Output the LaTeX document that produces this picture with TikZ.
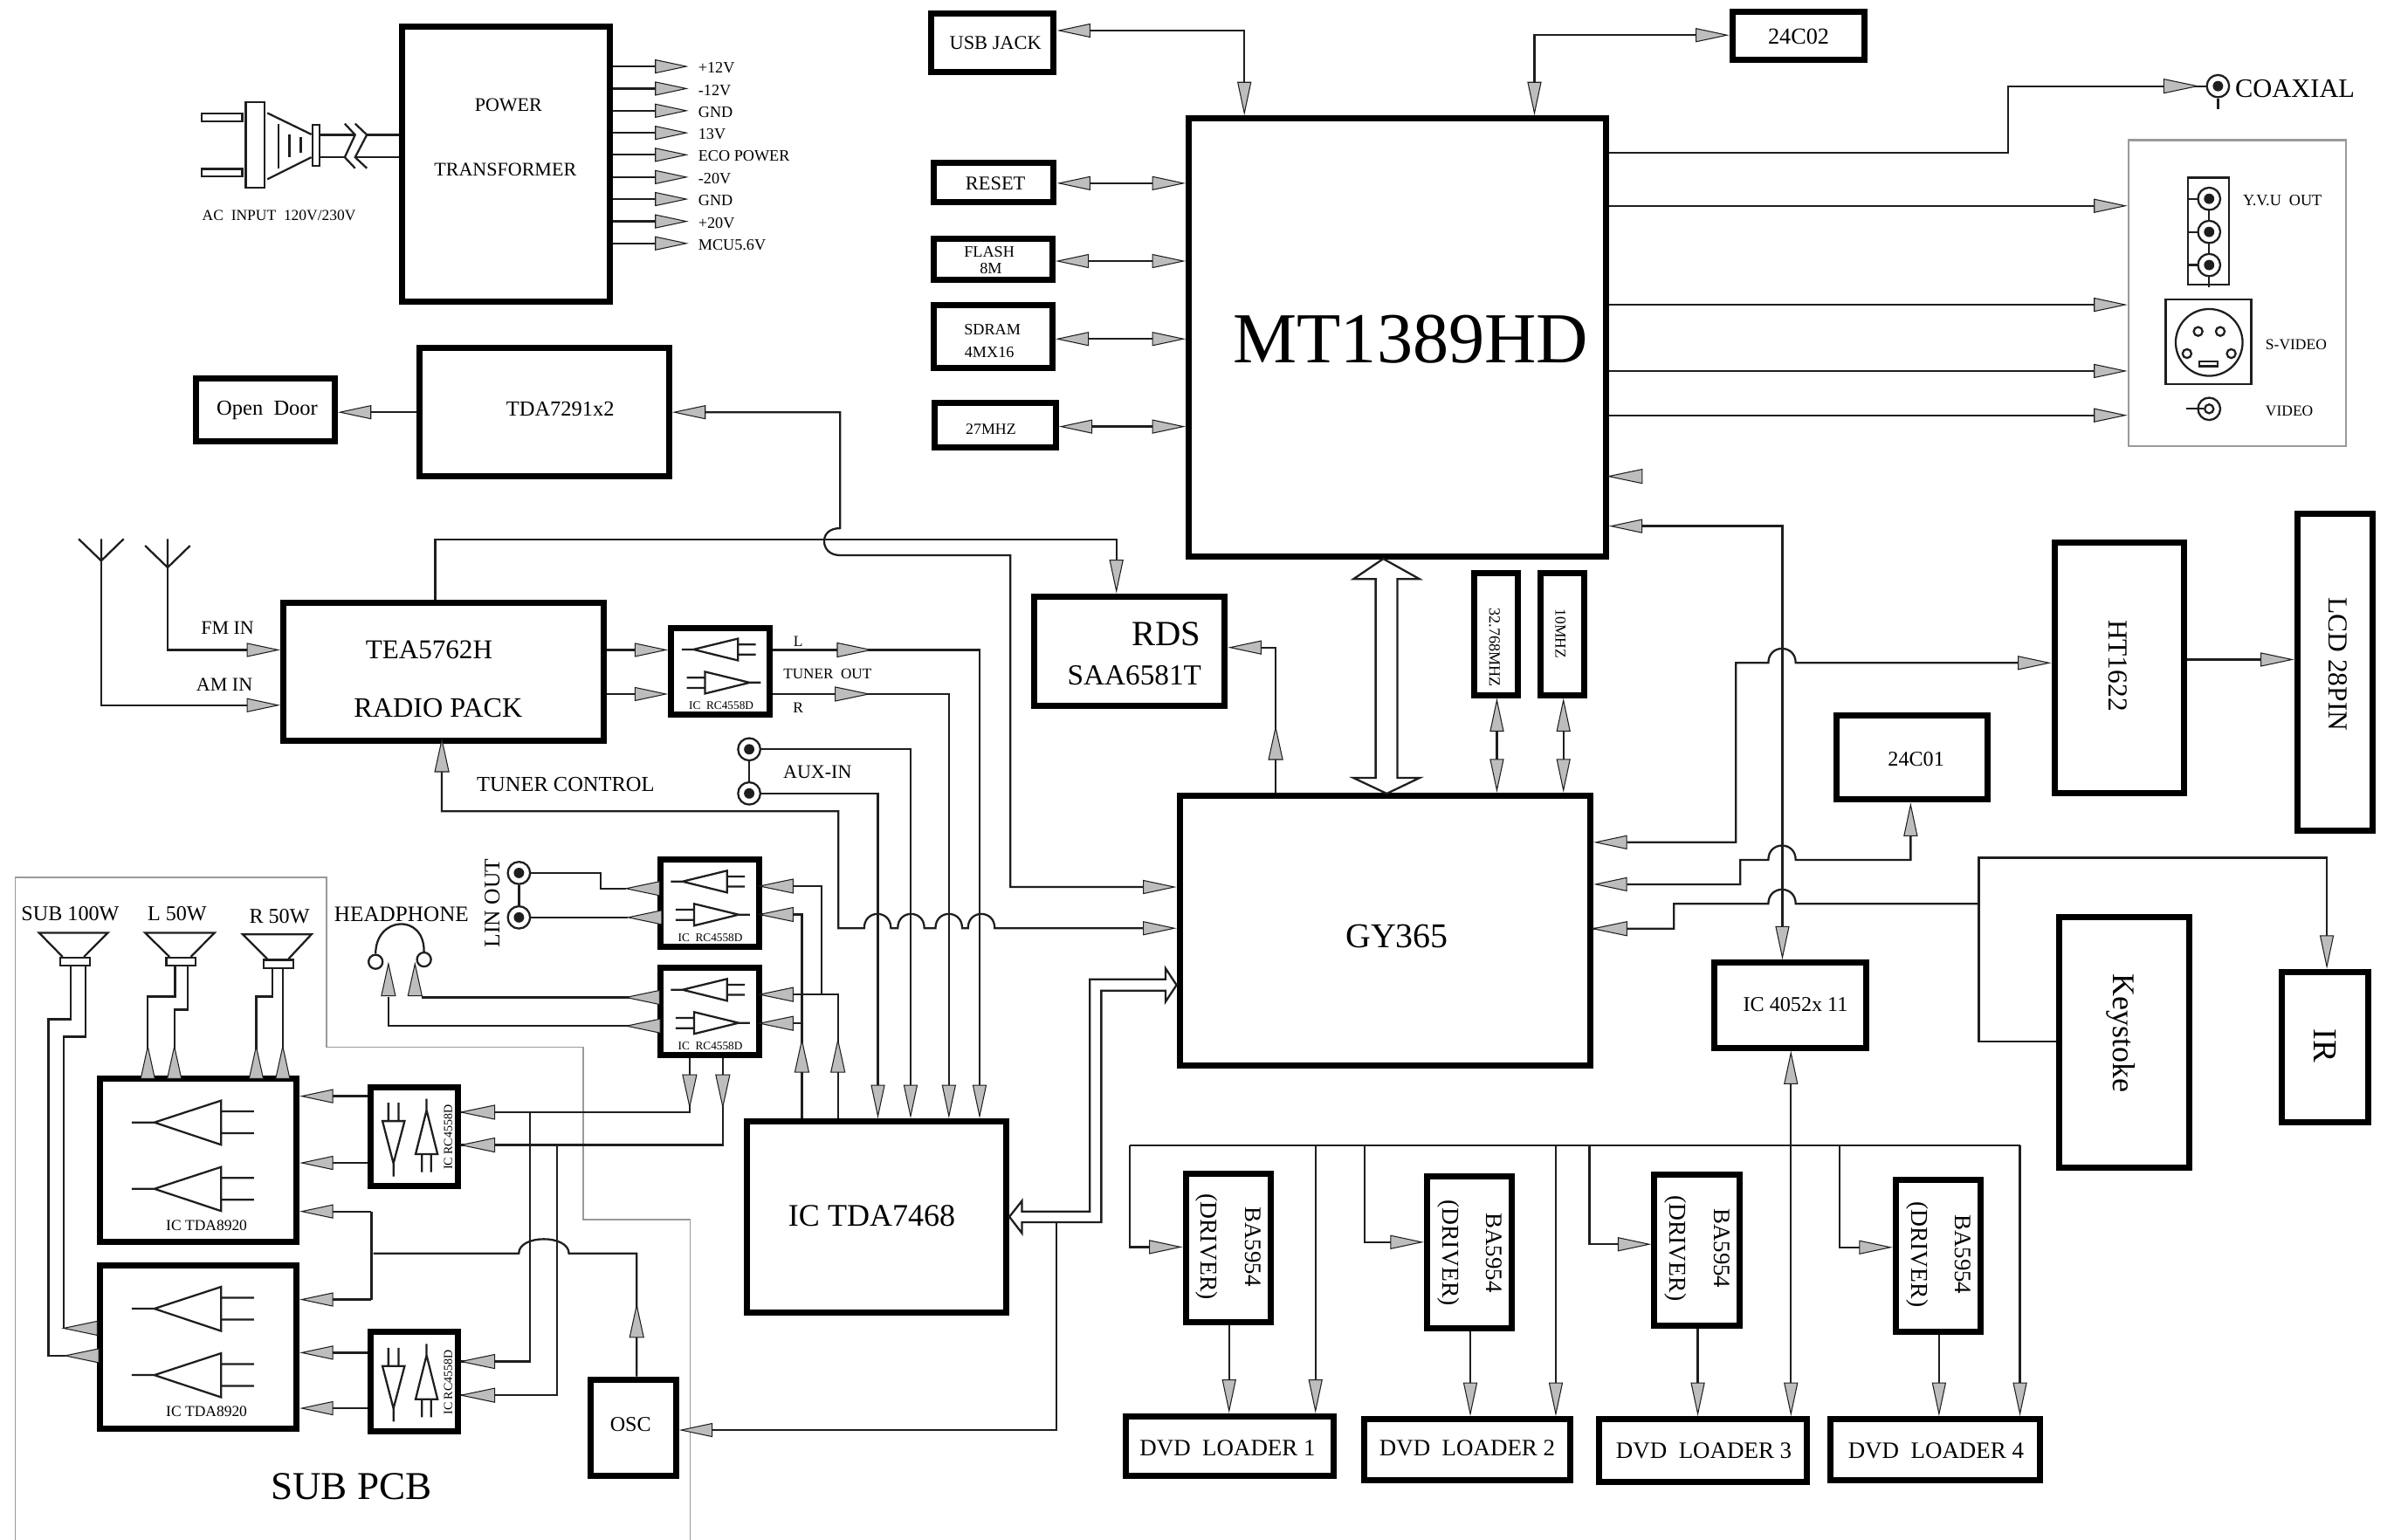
\documentclass[tikz,border=0pt]{standalone}
\usepackage{fontspec}
\setmainfont{Liberation Serif}
\usetikzlibrary{arrows.meta,calc}
\definecolor{tipgray}{HTML}{BDBDBD}
\definecolor{ink}{HTML}{1E1E1E}
\definecolor{edge}{HTML}{9A9A9A}
\newcounter{lbl}
\tikzset{
  wire/.style={draw=ink,line width=.65pt,line join=miter},
  ar/.style={wire,-{Triangle[length=11pt,width=4.6pt,fill=tipgray,line width=.3pt]}},
  rr/.style={wire,{Triangle[length=11pt,width=4.6pt,fill=tipgray,line width=.3pt]}-{Triangle[length=11pt,width=4.6pt,fill=tipgray,line width=.3pt]}},
  tipst/.style={fill=tipgray,draw=ink,line width=.3pt,line join=miter},
  tbox/.style={draw=black,line width=2pt,rectangle,inner sep=0pt,anchor=north west,xshift=-.7pt,yshift=.7pt},
  sbox/.style={draw=ink,line width=.65pt,rectangle,inner sep=0pt,anchor=north west},
  gbox/.style={draw=edge,line width=.65pt,rectangle,inner sep=0pt,anchor=north west},
  txt/.style={inner sep=0pt,text=black},
  jack/.style={circle,draw=ink,line width=.65pt,inner sep=0pt,minimum size=7.3pt,fill=white},
  dotn/.style={circle,fill=ink,inner sep=0pt,minimum size=3.4pt},
  hole/.style={circle,draw=ink,line width=.65pt,inner sep=0pt,minimum size=2.9pt},
  hop/.style={to path={.. controls ($(\tikztostart)+(0,-12.5)$) and ($(\tikztotarget)+(0,-12.5)$) .. (\tikztotarget)}},
  thinline/.style={draw=edge,line width=.45pt},
}
\newcommand\bx[6][tbox]{\pgfmathsetmacro\bw{(#5-#3)*.5-1.2}\pgfmathsetmacro\bh{(#6-#4)*.5-1.2}\node[#1,minimum width=\bw pt,minimum height=\bh pt] (#2) at (#3,#4) {};}
\newcommand\tx[4][]{\stepcounter{lbl}\node[txt,font={\fontsize{#2}{#2}\selectfont},#1] (t\thelbl) at ($(#3)+(0,1)$) {#4};}
\newcommand\tipL[2]{\draw[tipst] (#1,#2) -- ++(22,-4.6) -- ++(0,9.2) -- cycle;}
\newcommand\tipR[2]{\draw[tipst] (#1,#2) -- ++(-22,-4.6) -- ++(0,9.2) -- cycle;}
\newcommand\tipU[2]{\draw[tipst] (#1,#2) -- ++(-4.6,21) -- ++(9.2,0) -- cycle;}
\newcommand\tipD[2]{\draw[tipst] (#1,#2) -- ++(-4.6,-21) -- ++(9.2,0) -- cycle;}
% horizontal dual amp in an IC box
\newcommand\ampH[2]{\begin{scope}[shift={(#1,#2)}]
 \draw[wire] (44.4,7.7) -- (44.4,22) -- (15.2,14.8) -- cycle (7.6,14.8) -- (15.2,14.8) (44.4,11.5) -- (56,11.5) (44.4,18.1) -- (56,18.1);
 \draw[wire] (22.8,29.4) -- (22.8,43.7) -- (52,36.5) -- cycle (52,36.5) -- (59.3,36.5) (10.8,33.3) -- (22.8,33.3) (10.8,40) -- (22.8,40);
 \tx{3.8}{33.4,50.5}{IC~ RC4558D}
\end{scope}}
% vertical dual amp in the sub board
\newcommand\ampV[2]{\begin{scope}[shift={(#1,#2)}]
 \draw[wire] (8.2,22.3) -- (22.7,22.3) -- (15.4,50) -- cycle (15.4,50) -- (15.4,58.6) (12.1,10.3) -- (12.1,22.3) (18.7,10.3) -- (18.7,22.3);
 \draw[wire] (29.9,44) -- (44.3,44) -- (37.1,15.2) -- cycle (37.1,15.2) -- (37.1,7.7) (34.1,44) -- (34.1,55.8) (40,44) -- (40,55.8);
 \tx[rotate=90]{4}{51.2,32}{IC RC4558D}
\end{scope}}
% two power amps
\newcommand\ampT[2]{\begin{scope}[shift={(#1,#2)}]
 \draw[wire] (80.1,14.9) -- (80.1,43.8) -- (36.4,29.2) -- cycle (21.6,29.2) -- (36.4,29.2) (80.1,22) -- (101.7,22) (80.1,36.3) -- (101.7,36.3);
 \draw[wire] (80.1,58.4) -- (80.1,87.2) -- (36.4,72.7) -- cycle (21.6,72.7) -- (36.4,72.7) (80.1,65.5) -- (101.7,65.5) (80.1,79.8) -- (101.7,79.8);
 \tx{5}{70.6,95.5}{IC TDA8920}
\end{scope}}
\newcommand\jk[3]{\node[jack] (#1) at (#2,#3) {};\node[dotn] (#1d) at (#2,#3) {};}
\begin{document}
\begin{tikzpicture}[x=.5pt,y=-.5pt]
\useasboundingbox (0,0) rectangle (1568,1008.7);
\fill[white] (0,0) rectangle (1568,1008.7);
% sub board outline
\draw[thinline] (10,1008.7) -- (10,574.6) -- (214,574.6) -- (214,686) -- (382,686) -- (382,799) -- (452,799) -- (452,1008.7);
% boxes
\bx{tp}{263}{17}{401.5}{199.5}
\bx{usb}{609}{8}{692}{49}
\bx{ea}{1134}{7}{1223}{41}
\bx{mt}{778}{77}{1053.5}{366.5}
\bx{rst}{611}{106}{692}{134}
\bx{flash}{611}{156}{691}{185}
\bx{sdram}{611}{199}{691}{243}
\bx{xtal}{611.3}{263.5}{693.3}{295}
\bx{tpw}{274}{227}{440}{314}
\bx{door}{128}{247}{221}{291}
\bx{tea}{185}{394}{397}{487}
\bx{rc1}{439}{410.6}{506}{470}
\bx{rds}{677}{390}{804}{464}
\bx{xa}{965}{375}{996}{457}
\bx{xb}{1008.4}{375}{1039.5}{457}
\bx{gy}{772}{520.5}{1043.5}{699.5}
\bx{ht}{1345}{355}{1432.5}{521.5}
\bx{lcd}{1504}{336}{1556}{546}
\bx{eb}{1202}{468}{1303.5}{525.5}
\bx{sw}{1122}{630}{1224}{688}
\bx{key}{1348}{600}{1435.5}{766.5}
\bx{ir}{1494}{636}{1553}{737}
\bx{rc2}{431.8}{562.6}{498.9}{621.8}
\bx{rc3}{431.8}{633.5}{498.9}{692.8}
\bx{tda}{488.7}{734}{660.9}{861.5}
\bx{amA}{64.7}{706}{196}{815.5}
\bx{amB}{64.7}{828}{196}{937.5}
\bx{rc4}{242.3}{711.4}{301.6}{778.6}
\bx{rc5}{242.3}{872}{301.6}{939.3}
\bx{osc}{386}{903}{444.5}{968.5}
\bx{baa}{776}{768}{834}{868}
\bx{bab}{934}{770}{992}{872}
\bx{bac}{1083}{769}{1141}{870}
\bx{bad}{1241}{772}{1299}{874}
\bx{dva}{737}{927}{875}{968.5}
\bx{dvb}{893}{929}{1030}{971.5}
\bx{dvc}{1047}{929}{1185}{972.5}
\bx{dvd}{1198}{929}{1338}{971.5}
\bx[gbox]{panel}{1393.4}{91.1}{1538.2}{293.9}
% amplifier symbols
\ampH{439}{410.6}
\ampH{431.8}{562.6}
\ampH{431.8}{633.5}
\ampV{242.3}{712}
\ampV{242.3}{872.5}
\ampT{64.7}{706}
\ampT{64.7}{828}
% plug
\bx[sbox]{plugA}{131.4}{73.6}{160.4}{81.2}
\bx[sbox]{plugB}{131.4}{110}{160.4}{117.4}
\bx[sbox]{plugC}{160.4}{66.3}{175.1}{124.7}
\bx[sbox]{plugD}{203.9}{81}{211.2}{110.2}
\draw[wire] (175.1,74) -- (203.9,88) (175.1,117.4) -- (203.9,103);
\draw[wire] (182.3,81) -- (182.3,110.5) (189.6,88) -- (189.6,103) (197,90) -- (197,100);
\draw[wire] (plugD.east |- 0,88.3) -- (232.6,88.3) (240.3,88.3) -- (tp.west |- 0,88.3);
\draw[wire] (plugD.east |- 0,103) -- (225.8,103) (232.6,103) -- (tp.west |- 0,103);
\draw[wire] (225.8,81) -- (232.6,88.3) -- (225.8,103) -- (232.6,110.2);
\draw[wire] (232.6,81) -- (240.3,88.3) -- (232.6,103) -- (240.3,110.2);
% power rails
\foreach \y/\lab in {43.5/+12V,58/-12V,72.5/GND,87/13V,101.4/ECO POWER,116/-20V,130.4/GND,145/+20V,159.4/MCU5.6V}{
  \draw[ar] (tp.east |- 0,\y) -- (451,\y);
  \tx[anchor=west]{5.2}{457,\y}{\lab}
}
% top-left connections
\draw[rr] (usb.east |- 0,20) -- (815,20) -- (mt.north -| 815,0);
\draw[rr] (ea.west |- 0,23) -- (1005,23) -- (mt.north -| 1005,0);
\draw[rr] (rst.east |- 0,120) -- (mt.west |- 0,120);
\draw[rr] (flash.east |- 0,171) -- (mt.west |- 0,171);
\draw[rr] (sdram.east |- 0,222) -- (mt.west |- 0,222);
\draw[rr] (xtal.east |- 0,279.4) -- (mt.west |- 0,279.4);
% door and radio data lines
\draw[ar] (tpw.west |- 0,270) -- (door.east |- 0,270);
\draw[rr] (tpw.east |- 0,270) -- (550.3,270) -- (550.3,346) .. controls (543,346) and (539.8,350) .. (539.8,354.5) .. controls (539.8,359) and (543,363.7) .. (550.3,363.7) -- (661.8,363.7) -- (661.8,581) -- (gy.west |- 0,581);
\draw[ar] (tea.north -| 285,0) -- (285,353.2) -- (731.2,353.2) -- (rds.north -| 731.2,0);
% rds <- gy
\draw[ar] (gy.north -| 835.5,0) -- (835.5,424.1) -- (rds.east |- 0,424.1);
\tipU{835.5}{476.5}
% crystals
\draw[rr] (xa.south -| 980.4,0) -- (gy.north -| 980.4,0);
\draw[rr] (xb.south -| 1024,0) -- (gy.north -| 1024,0);
% big bus arrow
\draw[wire] (906,366) -- (929.8,379.3) -- (915.2,379.3) -- (915.2,509.5) -- (929.8,509.5) -- (908.3,519.8) -- (886.4,509.5) -- (901,509.5) -- (901,379.3) -- (886.4,379.3) -- cycle;
% outputs of MT
\jk{coax}{1452.7}{56.4}
\draw[wire] (coax.south) -- (1452.7,71.3);
\draw[wire] (mt.east |- 0,100) -- (1315.3,100) -- (1315.3,56.4) -- (coax.west);
\tipR{1439.2}{56.4}
\draw[ar] (mt.east |- 0,134.8) -- (panel.west |- 0,134.8);
\draw[ar] (mt.east |- 0,199.6) -- (panel.west |- 0,199.6);
\draw[ar] (mt.east |- 0,243) -- (panel.west |- 0,243);
\draw[ar] (mt.east |- 0,272) -- (panel.west |- 0,272);
\tipL{1053.5}{312}
% video panel
\bx[sbox]{yvu}{1432.4}{115.7}{1461.6}{188.3}
\draw[wire] (1446.9,130.2) -- (1446.9,188.3);
\draw[wire] (1432.4,130.2) -- (1446.9,130.2) (1432.4,151.9) -- (1446.9,151.9) (1432.4,173.6) -- (1446.9,173.6);
\jk{ya}{1446.9}{130.2}
\jk{yb}{1446.9}{151.9}
\jk{yc}{1446.9}{173.6}
\bx[sbox]{svb}{1417.8}{195.3}{1476.3}{253.5}
\node[circle,draw=ink,line width=.65pt,inner sep=0pt,minimum size=21.9pt] (svc) at (1446.9,224.3) {};
\node[hole] (sa) at (1439.7,217.1) {};
\node[hole] (sb) at (1454.2,217.1) {};
\node[hole] (sc) at (1432.4,231.6) {};
\node[hole] (sd) at (1461.4,231.6) {};
\bx[sbox]{se}{1439.7}{235.9}{1454.4}{241.7}
\node[circle,draw=ink,line width=.65pt,inner sep=0pt,minimum size=7.3pt] (vida) at (1446.9,267.8) {};
\node[circle,draw=ink,line width=.65pt,inner sep=0pt,minimum size=2.9pt] (vidb) at (1446.9,267.8) {};
\draw[wire] (1432,267.8) -- (vidb.west);
% antennas
\draw[wire] (51.5,353) -- (66.3,367.3) -- (81,353) (66.3,353) -- (66.3,367.3);
\draw[wire] (95,357.4) -- (109.8,371.7) -- (124.5,357.4) (109.8,353) -- (109.8,371.7);
\draw[ar] (66.3,367.3) -- (66.3,461.9) -- (tea.west |- 0,461.9);
\draw[ar] (109.8,371.7) -- (109.8,425.7) -- (tea.west |- 0,425.7);
% tuner section
\draw[ar] (tea.east |- 0,425.7) -- (rc1.west |- 0,425.7);
\draw[ar] (tea.east |- 0,454.6) -- (rc1.west |- 0,454.6);
\draw[ar] (rc1.east |- 0,425.7) -- (641.6,425.7) -- (tda.north -| 641.6,0);
\draw[ar] (rc1.east |- 0,454.6) -- (621.5,454.6) -- (tda.north -| 621.5,0);
\tipR{570.4}{425.7}
\tipR{569}{454.6}
\jk{auxa}{490.7}{490.8}
\jk{auxb}{490.7}{519.7}
\draw[wire] (auxa.south) -- (auxb.north);
\draw[ar] (auxa.east) -- (596.4,490.8) -- (tda.north -| 596.4,0);
\draw[ar] (auxb.east) -- (575,519.7) -- (tda.north -| 575,0);
% tuner control with hops
\draw[ar] (tea.south -| 289.4,0) -- (289.4,531.4) -- (549.1,531.4) -- (549.1,608) -- (566,608) to[hop] (583.5,608) -- (588,608) to[hop] (605.4,608) -- (612.7,608) to[hop] (630.2,608) -- (634,608) to[hop] (651.5,608) -- (gy.west |- 0,608);
\tipU{289.4}{484.5}
% lin out
\jk{lina}{339.9}{571.8}
\jk{linb}{339.9}{600.9}
\draw[wire] (lina.south) -- (linb.north);
\draw[wire] (lina.east) -- (393.6,571.8) -- (393.6,582) -- (410,582);
\draw[wire,line width=.75pt] (linb.east) -- (411.4,600.9);
\tipL{410}{582}
\tipL{411.4}{600.9}
\draw[wire] (rc2.east |- 0,580.4) -- (538.3,580.4) -- (538.3,651.4);
\draw[wire] (rc2.east |- 0,599) -- (525.2,599) -- (tda.north -| 525.2,0);
\draw[wire] (rc3.east |- 0,651.4) -- (548.8,651.4) -- (tda.north -| 548.8,0);
\draw[wire] (rc3.east |- 0,670.3) -- (525.2,670.3);
\tipL{497.5}{580.4}
\tipL{497.5}{599}
\tipL{497.5}{651.4}
\tipL{497.5}{670.3}
\tipU{525.2}{681.3}
\tipU{548.8}{681.3}
% headphone
\node[circle,draw=ink,line width=.65pt,inner sep=0pt,minimum size=4.6pt] (hpl) at (246,630) {};
\node[circle,draw=ink,line width=.65pt,inner sep=0pt,minimum size=4.6pt] (hpr) at (277.7,628.5) {};
\draw[wire] (hpl.north) .. controls (246,600) and (278,598) .. (hpr.north);
\draw[wire] (rc3.west |- 0,653.3) -- (276.4,653.3);
\draw[wire] (rc3.west |- 0,672) -- (254.4,672) -- (254.4,653);
\tipU{254.4}{631.3}
\tipU{271.8}{631.3}
\tipL{410}{653.3}
\tipL{410.4}{672}
% rc3 to sub board
\draw[wire] (rc3.south -| 451.7,0) -- (451.7,728.5) -- (rc4.east |- 0,728.5);
\draw[wire] (rc3.south -| 473.4,0) -- (473.4,750) -- (rc4.east |- 0,750);
\tipD{451.7}{725}
\tipD{473.4}{725}
\tipL{302}{728.5}
\tipL{302}{750}
\draw[wire] (347.3,728.5) -- (347.3,891.8) -- (rc5.east |- 0,891.8);
\draw[wire] (364.7,750) -- (364.7,913.9) -- (rc5.east |- 0,913.9);
\tipL{302}{891.8}
\tipL{302}{913.9}
% rc4/rc5 to power amps
\draw[ar] (rc4.west |- 0,718) -- (amA.east |- 0,718);
\draw[ar] (rc4.west |- 0,761.7) -- (amA.east |- 0,761.7);
\draw[ar] (rc5.west |- 0,886) -- (amB.east |- 0,886);
\draw[ar] (rc5.west |- 0,922.4) -- (amB.east |- 0,922.4);
% oscillator
\draw[wire] (osc.north -| 417,0) -- (417,821) -- (372.6,821) to[hop] (339.8,821) -- (244.6,821);
\tipU{417}{855}
\draw[wire] (243.3,793.5) -- (243.3,851.2);
\draw[ar] (243.3,793.5) -- (amA.east |- 0,793.5);
\draw[ar] (243.3,851.2) -- (amB.east |- 0,851.2);
\draw[ar] (691.9,800.6) -- (691.9,936.7) -- (osc.east |- 0,936.7);
% speakers
\bx[sbox]{spa}{38.7}{626.7}{60.7}{634.2}
\bx[sbox]{spb}{108.3}{626.7}{130}{634.2}
\bx[sbox]{spc}{172}{628}{193.7}{636}
\draw[wire] (spa.north -| 41,0) -- (25.6,611) -- (70.6,611) -- (spa.north -| 55,0);
\draw[wire] (spb.north -| 111,0) -- (95,611) -- (140.5,611) -- (spb.north -| 125,0);
\draw[wire] (spc.north -| 175,0) -- (159,612) -- (204,612) -- (spc.north -| 189,0);
\draw[wire] (spa.south -| 46.3,0) -- (46.3,667.6) -- (31.8,667.6) -- (31.8,888) -- (42.7,888);
\draw[wire] (spa.south -| 56.1,0) -- (56.1,679) -- (41.7,679) -- (41.7,870);
\tipL{42.7}{888}
\tipL{41.7}{870}
\draw[wire] (spb.south -| 114.6,0) -- (114.6,652.8) -- (96.8,652.8) -- (amA.north -| 96.8,0);
\draw[wire] (spb.south -| 123,0) -- (123,661.3) -- (114.2,661.3) -- (amA.north -| 114.2,0);
\draw[wire] (spc.south -| 178.3,0) -- (178.3,652.8) -- (167.8,652.8) -- (amA.north -| 167.8,0);
\draw[wire] (spc.south -| 185.2,0) -- (amA.north -| 185.2,0);
\tipU{96.8}{685.4}
\tipU{114.2}{685.4}
\tipU{167.8}{685.4}
\tipU{185.2}{685.4}
% tda7468 double line to GY365
\draw[wire] (763.4,641.4) -- (713.8,641.4) -- (713.8,793.5) -- (669.4,793.5) -- (669.4,786.5) -- (tda.east |- 0,797) -- (669.4,807.8) -- (669.4,800.6) -- (721.3,800.6) -- (721.3,648.9) -- (763.4,648.9) -- (763.4,656.1) -- (gy.west |- 0,645.2) -- (763.4,634.3) -- cycle;
% switches to GY
\draw[rr] (gy.east |- 0,551.7) -- (1137,551.7) -- (1137,434.2) -- (1158.2,434.2) to[hop] (1176.1,434.2) -- (ht.west |- 0,434.2);
\draw[rr] (gy.east |- 0,579.2) -- (1139.8,579.2) -- (1139.8,563.2) -- (1158.2,563.2) to[hop] (1176.1,563.2) -- (1251.4,563.2) -- (eb.south -| 1251.4,0);
\draw[wire] (gy.east |- 0,608.3) -- (1096.4,608.3) -- (1096.4,592) -- (1158.2,592) to[hop] (1176.1,592) -- (1296.1,592);
\tipL{1043.5}{608.3}
\draw[ar] (1296.1,592) -- (1296.1,561.9) -- (1524,561.9) -- (ir.north -| 1524,0);
\draw[wire] (1296.1,592) -- (1296.1,682.1) -- (key.west |- 0,682.1);
\draw[ar] (ht.east |- 0,432) -- (lcd.west |- 0,432);
\draw[rr] (mt.east |- 0,344.6) -- (1167.4,344.6) -- (sw.north -| 1167.4,0);
% dvd bus
\draw[rr] (sw.south -| 1173,0) -- (dvc.north -| 1173,0);
\draw[wire] (740,750.2) -- (1323,750.2);
\draw[ar] (740,750.2) -- (740,816.8) -- (baa.west |- 0,816.8);
\draw[ar] (861.6,750.2) -- (dva.north -| 861.6,0);
\draw[ar] (893.6,750.2) -- (893.6,813.6) -- (bab.west |- 0,813.6);
\draw[ar] (1019,750.2) -- (dvb.north -| 1019,0);
\draw[ar] (1041,750.2) -- (1041,815) -- (bac.west |- 0,815);
\draw[ar] (1205,750.2) -- (1205,817) -- (bad.west |- 0,817);
\draw[ar] (1323,750.2) -- (dvd.north -| 1323,0);
\draw[ar] (baa.south -| 805,0) -- (dva.north -| 805,0);
\draw[ar] (bab.south -| 963,0) -- (dvb.north -| 963,0);
\draw[ar] (bac.south -| 1112,0) -- (dvc.north -| 1112,0);
\draw[ar] (bad.south -| 1270,0) -- (dvd.north -| 1270,0);
% texts
\tx{6.3}{333,68}{POWER}
\tx{6.3}{331,110}{TRANSFORMER}
\tx{5}{182.8,140}{AC~ INPUT~ 120V/230V}
\tx{6.4}{652,27}{USB JACK}
\tx{7.5}{1178,23}{24C02}
\tx{23.5}{924,221}{MT1389HD}
\tx{6.4}{652,119}{RESET}
\tx{5.2}{648,164}{FLASH}
\tx{5.2}{649,175}{8M}
\tx{5.2}{650,215}{SDRAM}
\tx{5.2}{648,230}{4MX16}
\tx{5.1}{649,280}{27MHZ}
\tx{7}{367,267}{TDA7291x2}
\tx{7}{175,268}{Open~ Door}
\tx{8.9}{281,424.5}{TEA5762H}
\tx{9.2}{287,462.5}{RADIO PACK}
\tx{11.6}{764,414.5}{RDS}
\tx{9.5}{743,441.5}{SAA6581T}
\tx{11.4}{915,612.5}{GY365}
\tx[rotate=-90]{9}{1387,435}{HT1622}
\tx[rotate=-90]{9}{1531,434}{LCD 28PIN}
\tx{6.9}{1255,496}{24C01}
\tx{6.9}{1176,657}{IC 4052x 11}
\tx[rotate=-90]{10.3}{1389,676}{Keystoke}
\tx[rotate=-90]{11}{1523,684}{IR}
\tx{6.9}{413,932}{OSC}
\tx{10.3}{571,795.5}{IC TDA7468}
\tx{12.9}{230,972.5}{SUB PCB}
\tx{7.7}{804,947.5}{DVD~ LOADER 1}
\tx{7.7}{961,947.5}{DVD~ LOADER 2}
\tx{7.7}{1116,949.5}{DVD~ LOADER 3}
\tx{7.7}{1268,949.5}{DVD~ LOADER 4}
\tx[rotate=-90]{5.2}{978.8,423.1}{32.768MHZ}
\tx[rotate=-90]{5}{1022.1,414.2}{10MHZ}
\tx[rotate=-90]{7.7}{820.6,815.6}{BA5954}
\tx[rotate=-90]{7.9}{790.6,815.6}{(DRIVER)}
\tx[rotate=-90]{7.7}{978.6,819.6}{BA5954}
\tx[rotate=-90]{7.9}{948.6,819.6}{(DRIVER)}
\tx[rotate=-90]{7.7}{1127.6,816.6}{BA5954}
\tx[rotate=-90]{7.9}{1097.6,816.6}{(DRIVER)}
\tx[rotate=-90]{7.7}{1285.6,820.6}{BA5954}
\tx[rotate=-90]{7.9}{1255.6,820.6}{(DRIVER)}
\tx[anchor=west]{8.7}{1463.6,57}{COAXIAL}
\tx[anchor=west]{5.2}{1468.7,130.5}{Y.V.U~ OUT}
\tx[anchor=west]{5}{1483.5,225}{S-VIDEO}
\tx[anchor=west]{5}{1483.5,268.5}{VIDEO}
\tx{6.3}{149,410.5}{FM IN}
\tx{6.3}{147,447.5}{AM IN}
\tx{5}{522.8,419}{L}
\tx{4.9}{542,440.5}{TUNER~ OUT}
\tx{5}{522.8,462.5}{R}
\tx{7}{370.5,513}{TUNER CONTROL}
\tx{6.3}{535.4,504.5}{AUX-IN}
\tx[rotate=90]{7.3}{322.4,590.6}{LIN OUT}
\tx{7.2}{263,598}{HEADPHONE}
\tx{6.9}{46,597.5}{SUB 100W}
\tx{6.9}{116,597.5}{L 50W}
\tx{6.9}{183,599.5}{R 50W}
\end{tikzpicture}
\end{document}
